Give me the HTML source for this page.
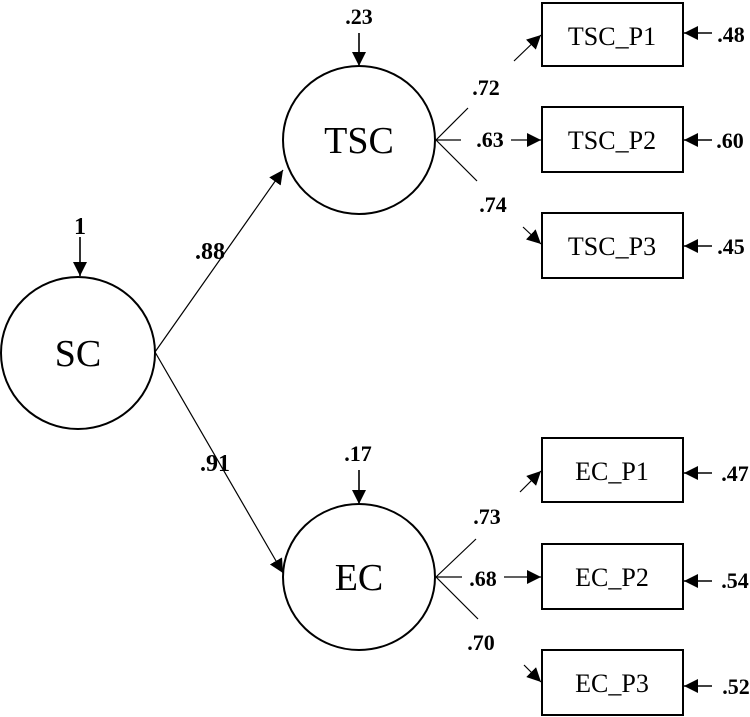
<!DOCTYPE html>
<html><head><style>body{margin:0;background:#fff}svg{display:block}
.big{font-size:38px}.box{font-size:26px}.c{font-size:22px;font-weight:bold}.cl{font-size:24px;font-weight:bold}</style></head><body>
<svg width="750" height="717" viewBox="0 0 750 717" xmlns="http://www.w3.org/2000/svg" font-family="Liberation Serif, serif">
<defs><marker id="b" viewBox="0 0 10 10" refX="10" refY="5" markerWidth="14" markerHeight="14" markerUnits="userSpaceOnUse" orient="auto"><path d="M0,0L10,5L0,10z" fill="#000"/></marker></defs>
<g fill="none" stroke="#000" stroke-width="2">
<ellipse cx="78" cy="353" rx="77" ry="76"/>
<ellipse cx="359" cy="140" rx="76" ry="74"/>
<ellipse cx="359" cy="577" rx="76" ry="73"/>
<rect x="542" y="3" width="141" height="63"/>
<rect x="542" y="107" width="141" height="65"/>
<rect x="542" y="213" width="141" height="65"/>
<rect x="542" y="438" width="141" height="64"/>
<rect x="542" y="544" width="141" height="65"/>
<rect x="542" y="650" width="141" height="65"/>
</g>
<g stroke="#000" stroke-width="1.2" fill="none">
<line x1="155" y1="352" x2="283" y2="170" marker-end="url(#b)"/>
<line x1="155" y1="352" x2="283" y2="573" marker-end="url(#b)"/>
<line x1="80" y1="237" x2="80" y2="276" stroke-width="1.6" marker-end="url(#b)"/>
<line x1="359" y1="33" x2="359" y2="66" stroke-width="1.6" marker-end="url(#b)"/>
<line x1="359" y1="470" x2="359" y2="504" stroke-width="1.6" marker-end="url(#b)"/>
<line x1="436" y1="140" x2="468" y2="108"/><line x1="436" y1="140" x2="461" y2="140"/><line x1="436" y1="140" x2="477" y2="181"/>
<line x1="514" y1="61" x2="541" y2="35" marker-end="url(#b)"/>
<line x1="511" y1="140" x2="541" y2="140" marker-end="url(#b)"/>
<line x1="523" y1="227" x2="541" y2="244" marker-end="url(#b)"/>
<line x1="436" y1="577" x2="476" y2="539"/><line x1="436" y1="577" x2="462" y2="577"/><line x1="436" y1="577" x2="478" y2="619"/>
<line x1="520" y1="492" x2="541" y2="471" marker-end="url(#b)"/>
<line x1="504" y1="577" x2="541" y2="577" marker-end="url(#b)"/>
<line x1="524" y1="665" x2="541" y2="682" marker-end="url(#b)"/>
<g stroke-width="1.6">
<line x1="712" y1="33" x2="684" y2="33" marker-end="url(#b)"/>
<line x1="712" y1="140" x2="684" y2="140" marker-end="url(#b)"/>
<line x1="712" y1="246" x2="684" y2="246" marker-end="url(#b)"/>
<line x1="712" y1="473" x2="684" y2="473" marker-end="url(#b)"/>
<line x1="712" y1="581" x2="684" y2="581" marker-end="url(#b)"/>
<line x1="712" y1="686" x2="684" y2="686" marker-end="url(#b)"/>
</g></g>
<g text-anchor="middle" fill="#000">
<text class="big" x="78" y="366">SC</text><text class="big" x="359" y="153">TSC</text><text class="big" x="359" y="590">EC</text>
<text class="box" x="612" y="45">TSC_P1</text><text class="box" x="612" y="149">TSC_P2</text><text class="box" x="612" y="255">TSC_P3</text>
<text class="box" x="612" y="480">EC_P1</text><text class="box" x="612" y="586">EC_P2</text><text class="box" x="612" y="692">EC_P3</text>
<text class="cl" x="80" y="234">1</text><text class="cl" x="210" y="259">.88</text><text class="cl" x="215" y="471">.91</text>
<text class="c" x="359" y="24">.23</text><text class="c" x="358" y="461">.17</text>
<text class="c" x="486" y="95">.72</text><text class="c" x="490" y="147">.63</text><text class="c" x="493" y="212">.74</text>
<text class="c" x="487" y="524">.73</text><text class="c" x="483" y="586">.68</text><text class="c" x="481" y="650">.70</text>
<text class="c" x="731" y="42">.48</text><text class="c" x="730" y="148">.60</text><text class="c" x="731" y="254">.45</text>
<text class="c" x="735" y="481">.47</text><text class="c" x="735" y="588">.54</text><text class="c" x="736" y="694">.52</text>
</g>
</svg>
</body></html>
